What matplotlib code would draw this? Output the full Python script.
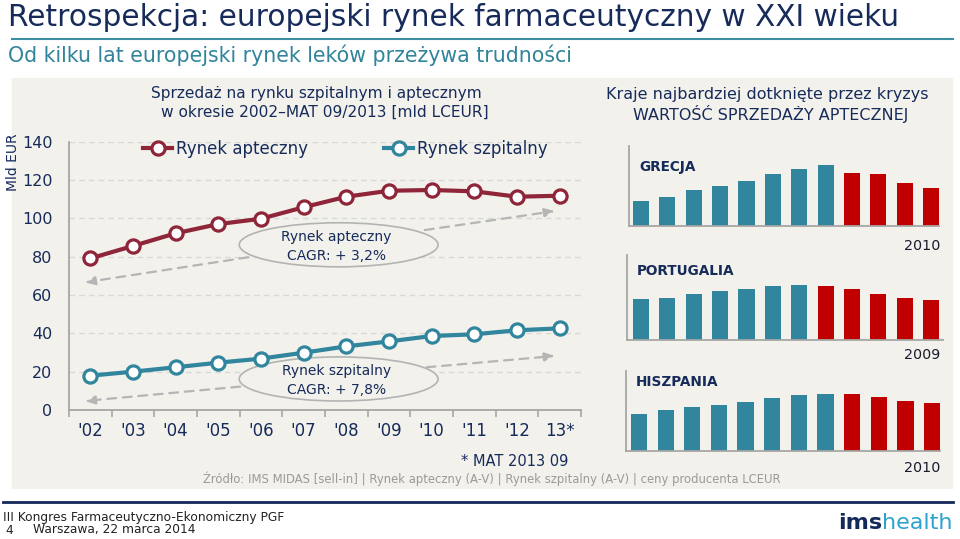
import matplotlib.pyplot as plt
from matplotlib.patches import Ellipse, Rectangle
from matplotlib.lines import Line2D

# --- dane: rynek europejski [mld LCEUR] ---
lata = ["'02", "'03", "'04", "'05", "'06", "'07", "'08", "'09", "'10", "'11", "'12", "13*"]
apteczny = [79.1, 85.6, 92.2, 97.0, 99.8, 105.8, 111.3, 114.4, 114.8, 114.1, 111.3, 111.8]
szpitalny = [17.9, 20.0, 22.3, 24.7, 26.8, 29.9, 33.2, 35.8, 38.6, 39.5, 41.6, 42.6]

# --- kraje dotkniete kryzysem (wartosc sprzedazy aptecznej, skala wzgledna) ---
kraje = ['GRECJA', 'PORTUGALIA', 'HISZPANIA']
grecja = [25.3, 29.0, 35.7, 40.3, 45.0, 52.0, 56.7, 60.7, 53.0, 51.7, 42.7, 38.3]
portugalia = [40.7, 42.3, 46.3, 49.0, 51.0, 54.0, 54.7, 54.3, 51.0, 45.7, 41.7, 40.0]
hiszpania = [36.7, 41.0, 43.7, 46.3, 49.0, 53.3, 55.7, 57.3, 57.3, 54.3, 49.7, 48.3]
liczba_wzrost = [8, 7, 8]          # slupki przed spadkiem (turkusowe)
rok_szczytu = ['2010', '2009', '2010']

W, H = 960, 539
NAVY = '#172b5a'
TEAL = '#31859c'
RED = '#c00000'
WINE = '#8e2538'
BG = '#f2f1ec'
GREY = '#a6a6a6'

fig = plt.figure(figsize=(W / 100, H / 100), dpi=100)
fig.patch.set_facecolor('white')


def box(l, t, r, b):
    return [l / W, 1 - b / H, (r - l) / W, (b - t) / H]


def T(px, py, s, **kw):
    return fig.text(px / W, 1 - py / H, s, **kw)


# tlo panelu
fig.patches.append(Rectangle((12 / W, 1 - 488 / H), 940 / W, (488 - 78) / H,
                             transform=fig.transFigure, color=BG, zorder=-10))

# naglowek
T(8, 17, 'Retrospekcja: europejski rynek farmaceutyczny w XXI wieku',
  fontsize=21.3, color=NAVY, va='center')
fig.add_artist(Line2D([12 / W, 953 / W], [1 - 39 / H] * 2, color='#3b8fa3', lw=1.5))
T(8, 55, 'Od kilku lat europejski rynek leków przeżywa trudności',
  fontsize=14.8, color='#31849b', va='center')

# --- wykres liniowy ---
ax = fig.add_axes(box(69, 141.7, 581, 410))
ax.set_facecolor('none')
x = list(range(len(lata)))
ax.plot(x, apteczny, color=WINE, lw=3, marker='o', ms=9.5, mfc='white', mec=WINE,
        mew=2.3, label='Rynek apteczny', zorder=5)
ax.plot(x, szpitalny, color=TEAL, lw=3, marker='o', ms=9.5, mfc='white', mec=TEAL,
        mew=2.3, label='Rynek szpitalny', zorder=5)
ax.set_xlim(-0.5, len(lata) - 0.5)
ax.set_ylim(0, 140)
ax.set_yticks(range(0, 141, 20))
ax.set_xticks(x)
ax.set_xticklabels(lata)
ax.set_xticks([i - 0.5 for i in range(len(lata) + 1)], minor=True)
ax.tick_params(axis='x', which='major', length=0, pad=9, labelsize=12, labelcolor=NAVY)
ax.tick_params(axis='x', which='minor', length=5, width=1.2, color=GREY, direction='out')
ax.tick_params(axis='y', length=0, pad=12, labelsize=11.5, labelcolor=NAVY)
for s in ['top', 'right']:
    ax.spines[s].set_visible(False)
for s in ['left', 'bottom']:
    ax.spines[s].set_color(GREY)
    ax.spines[s].set_linewidth(1.3)
for v in range(20, 141, 20):
    ax.axhline(v, color='#d8d8d8', lw=1, ls=(0, (4, 3)), zorder=1)

ax.legend(loc='center left', bbox_to_anchor=(143 / W, 1 - 149 / H),
          bbox_transform=fig.transFigure, ncol=2, frameon=False, fontsize=12,
          handlelength=1.75, handletextpad=0.2, columnspacing=4.6,
          borderpad=0, borderaxespad=0, labelcolor=NAVY)

# elipsy CAGR i strzalki trendu
for cy, txt in [(86.2, 'Rynek apteczny\nCAGR: + 3,2%'), (16.2, 'Rynek szpitalny\nCAGR: + 7,8%')]:
    ax.add_patch(Ellipse((5.82, cy), 4.66, 23.0, fc=BG, ec='#b3b3b3', lw=1.2, zorder=3))
    ax.text(5.77, cy - 0.8, txt, ha='center', va='center', fontsize=10, color=NAVY,
            linespacing=1.4, zorder=4)

strzalki = [((3.7, 79.7), (-0.13, 66.6)), ((7.84, 93.9), (10.89, 103.8)),
            ((3.51, 12.2), (-0.13, 4.7)), ((7.88, 22.3), (10.89, 28.2))]
for start, end in strzalki:
    ax.annotate('', xy=end, xytext=start, zorder=2,
                arrowprops=dict(arrowstyle='-|>,head_length=0.6,head_width=0.25',
                                color='#b5b5b5', lw=1.6, ls=(0, (4, 3)),
                                shrinkA=0, shrinkB=0))

T(316, 94, 'Sprzedaż na rynku szpitalnym i aptecznym', fontsize=11.1,
  color=NAVY, ha='center', va='center')
T(325, 112, 'w okresie 2002–MAT 09/2013 [mld LCEUR]', fontsize=11.1,
  color=NAVY, ha='center', va='center')
T(13, 162, 'Mld EUR', fontsize=10, color=NAVY, rotation=90, ha='center', va='center')

# --- male wykresy slupkowe ---
T(767, 95, 'Kraje najbardziej dotknięte przez kryzys', fontsize=11.5,
  color=NAVY, ha='center', va='center')
T(771, 114, 'WARTOŚĆ SPRZEDAŻY APTECZNEJ', fontsize=11.5,
  color=NAVY, ha='center', va='center')

uklady = [(629, 146, 939, 226, -0.455, 11.3, 80),
          (627, 255, 943, 340, -0.53, 11.45, 85),
          (626, 371, 940, 451, -0.49, 11.3, 80)]
etykiety_y = [167, 271, 382]
lata_y = [246, 355, 468]
for dane, n_up, rok, (l, t, r, b, x0, x1, ytop), ly, ry, nazwa in zip(
        [grecja, portugalia, hiszpania], liczba_wzrost, rok_szczytu,
        uklady, etykiety_y, lata_y, kraje):
    bx = fig.add_axes(box(l, t, r, b))
    bx.set_facecolor('none')
    kolory = [TEAL] * n_up + [RED] * (len(dane) - n_up)
    bx.bar(range(len(dane)), dane, width=0.61, color=kolory)
    bx.set_xlim(x0, x1)
    bx.set_ylim(0, ytop)
    bx.set_xticks([])
    bx.set_yticks([])
    for s in ['top', 'right']:
        bx.spines[s].set_visible(False)
    for s in ['left', 'bottom']:
        bx.spines[s].set_color(GREY)
        bx.spines[s].set_linewidth(1.3)
    T(l + 10, ly, nazwa, fontsize=9.8, fontweight='bold', color=NAVY, va='center')
    T(940, ry, rok, fontsize=10.3, color='#1a1a2e', ha='right', va='center')

# przypisy
T(515, 461, '* MAT 2013 09', fontsize=10.5, color=NAVY, ha='center', va='center')
T(492, 479, 'Źródło: IMS MIDAS [sell-in] | Rynek apteczny (A-V) | Rynek szpitalny (A-V) '
  '| ceny producenta LCEUR', fontsize=8.35, color='#9a9a9a', ha='center', va='center')

# stopka
fig.add_artist(Line2D([3 / W, 953 / W], [1 - 502 / H] * 2, color='#14285a', lw=2))
T(3, 517, 'III Kongres Farmaceutyczno-Ekonomiczny PGF', fontsize=8.8, color='#222222', va='center')
T(5, 530, '4', fontsize=8.8, color='#222222', va='center')
T(33, 530, 'Warszawa, 22 marca 2014', fontsize=8.8, color='#222222', va='center')
h = T(953, 523, 'health', fontsize=16, color='#2aa3d0', ha='right', va='center')
fig.canvas.draw()
ext = h.get_window_extent()
fig.text(ext.x0 / (fig.dpi * fig.get_figwidth()), 1 - 523 / H, 'ims', fontsize=16,
         fontweight='bold', color='#14285a', ha='right', va='center')

fig.savefig('out.png', dpi=100, facecolor='white')
